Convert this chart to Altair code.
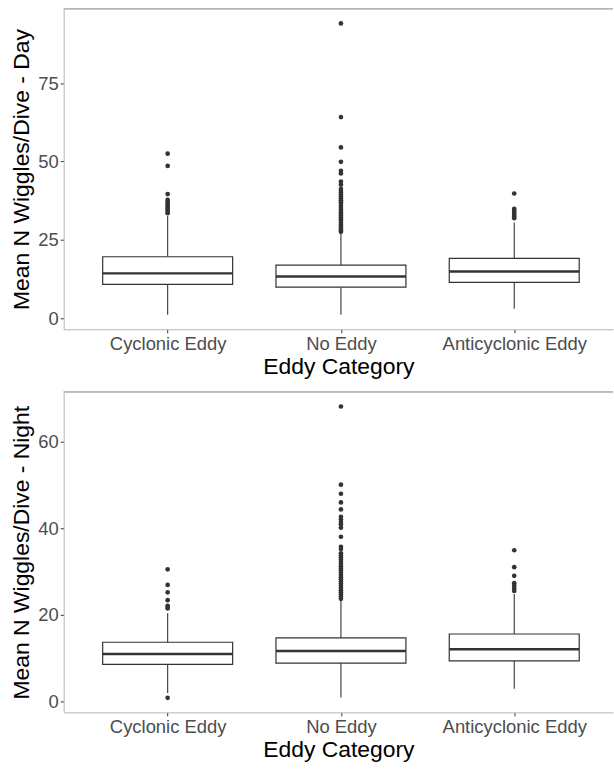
import altair as alt
import pandas as pd

# Eddy categories along the x axis (discrete positions 1, 2, 3)
categories = ["Cyclonic Eddy", "No Eddy", "Anticyclonic Eddy"]
positions = [1, 2, 3]

# Daytime box statistics per category
day_lower = [1.1, 1.1, 3.0]
day_q1 = [10.8, 9.9, 11.4]
day_median = [14.3, 13.3, 14.9]
day_q3 = [19.6, 16.9, 19.1]
day_upper = [32.6, 27.3, 30.5]

# Daytime outliers per category
day_out_cyclonic = [52.5, 48.6, 39.6, 37.8, 37.2, 36.6, 36.0, 35.5, 35.0, 34.5, 34.0, 33.5]
day_out_none = [94.1, 64.2, 54.5, 49.9, 47.0, 46.2, 43.6, 42.6, 41.2, 40.6, 40.0, 39.4,
                38.8, 38.2, 37.6, 37.0, 36.4, 35.8, 35.2, 34.6, 34.0, 33.4, 32.8, 32.2,
                31.6, 31.0, 30.4, 29.8, 29.2, 28.6, 28.0, 27.6]
day_out_anticyclonic = [39.8, 34.9, 34.3, 33.7, 33.1, 32.5, 31.9]

# Night-time box statistics per category
night_lower = [2.0, 1.0, 3.0]
night_q1 = [8.6, 8.9, 9.4]
night_median = [11.0, 11.7, 12.1]
night_q3 = [13.7, 14.7, 15.6]
night_upper = [20.4, 23.3, 24.8]

# Night-time outliers per category
night_out_cyclonic = [30.5, 26.9, 25.2, 23.4, 22.1, 21.8, 21.5, 0.9]
night_out_none = [68.0, 50.0, 47.9, 45.9, 44.3, 42.6, 42.0, 41.4, 40.9, 40.1, 38.0,
                  35.7, 35.2, 34.2, 33.7, 33.2, 32.7, 32.2, 31.7, 31.2, 30.7, 30.2,
                  29.7, 29.2, 28.7, 28.2, 27.7, 27.2, 26.7, 26.2, 25.7, 25.2, 24.7,
                  24.2, 23.7]
night_out_anticyclonic = [34.9, 31.0, 29.0, 27.3, 26.7, 26.1, 25.5]

day_ticks = [0, 25, 50, 75]
night_ticks = [0, 20, 40, 60]

FONT = "Liberation Sans"
INK = "#333333"
BORDER = "#b3b3b3"
BOX_HALF = 0.375
PANEL_W = 552
PANEL_H = 322
X_LIMITS = [0.4, 3.57]

label_expr = " : ".join(
    f"datum.value == {p} ? '{c}'" for p, c in zip(positions[:-1], categories[:-1])
) + f" : '{categories[-1]}'"


def panel(lower, q1, median, q3, upper, outliers, y_title, y_ticks):
    boxes = pd.DataFrame({
        "category": categories, "pos": positions,
        "lower": lower, "q1": q1, "median": median, "q3": q3, "upper": upper,
    })
    boxes["left"] = boxes["pos"] - BOX_HALF
    boxes["right"] = boxes["pos"] + BOX_HALF

    pts = pd.DataFrame(
        [(p, v) for p, vals in zip(positions, outliers) for v in vals],
        columns=["pos", "value"],
    )

    lo = min(min(lower), pts["value"].min())
    hi = max(max(upper), pts["value"].max())
    pad = 0.05 * (hi - lo)
    y_scale = alt.Scale(domain=[lo - pad, hi + pad], nice=False, zero=False)
    x_scale = alt.Scale(domain=X_LIMITS, nice=False, zero=False)

    x_axis = alt.Axis(values=positions, labelExpr=label_expr, title="Eddy Category",
                      labelOverlap=False, labelFlush=False, labelPadding=1.5,
                      titlePadding=2.5)
    y_axis = alt.Axis(values=y_ticks, title=y_title, titlePadding=4)

    base = alt.Chart(boxes)
    whisker_low = base.mark_rule(color=INK, strokeWidth=1.1).encode(
        x=alt.X("pos:Q", scale=x_scale, axis=x_axis),
        y=alt.Y("lower:Q", scale=y_scale, axis=y_axis),
        y2="q1:Q",
    )
    whisker_high = base.mark_rule(color=INK, strokeWidth=1.1).encode(
        x="pos:Q", y="q3:Q", y2="upper:Q"
    )
    box = base.mark_rect(fill="white", stroke=INK, strokeWidth=1.2).encode(
        x="left:Q", x2="right:Q", y="q1:Q", y2="q3:Q"
    )
    mid = base.mark_rule(color=INK, strokeWidth=2.4).encode(
        x="left:Q", x2="right:Q", y="median:Q"
    )
    dots = alt.Chart(pts).mark_circle(color=INK, opacity=1, size=22).encode(
        x="pos:Q", y="value:Q"
    )
    top_edge = base.mark_rule(color=BORDER, strokeWidth=1).encode(
        x=alt.value(0), x2=alt.value(PANEL_W), y=alt.value(0)
    )
    return alt.layer(whisker_low, whisker_high, box, mid, dots, top_edge).properties(
        width=PANEL_W, height=PANEL_H
    )


day = panel(day_lower, day_q1, day_median, day_q3, day_upper,
            [day_out_cyclonic, day_out_none, day_out_anticyclonic],
            "Mean N Wiggles/Dive - Day", day_ticks)
night = panel(night_lower, night_q1, night_median, night_q3, night_upper,
              [night_out_cyclonic, night_out_none, night_out_anticyclonic],
              "Mean N Wiggles/Dive - Night", night_ticks)

chart = alt.vconcat(day, night, spacing=13).properties(
    padding={"left": 10, "top": 6, "right": 0, "bottom": 0},
    background="white",
).configure_view(
    stroke=None
).configure_axis(
    grid=False,
    domainColor=BORDER,
    domainWidth=1,
    tickColor=INK,
    tickSize=3.5,
    tickWidth=1,
    labelFont=FONT,
    labelFontSize=18.5,
    labelColor="#4d4d4d",
    titleFont=FONT,
    titleFontSize=23,
    titleFontWeight="normal",
    titleColor="black",
)

chart.save("out.html", embed_options={"renderer": "svg", "actions": False})
